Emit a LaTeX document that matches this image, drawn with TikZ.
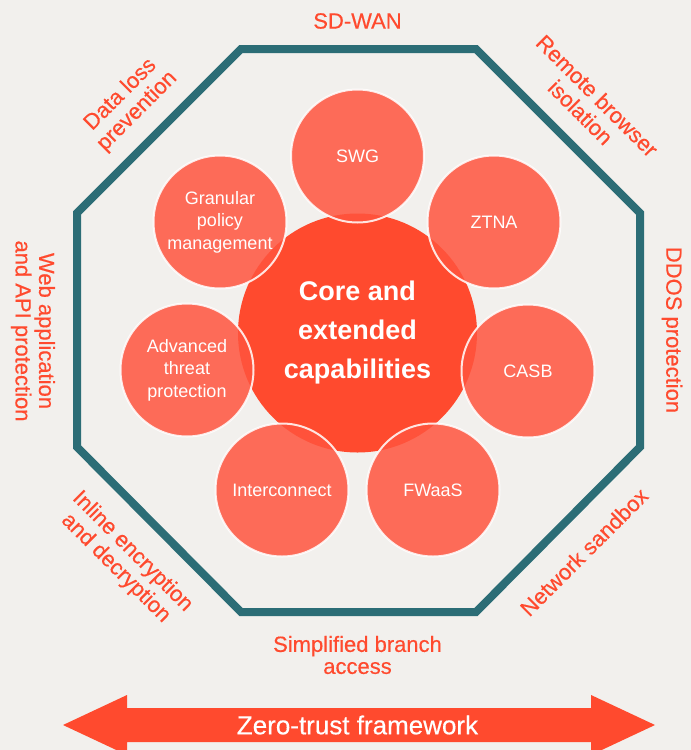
\documentclass[tikz,border=0pt]{standalone}
\usepackage{fontspec}
\setmainfont{Liberation Sans}
\newfontfamily\medfont[FakeBold=0.4]{Liberation Sans}
\definecolor{bgc}{HTML}{F2F0ED}
\definecolor{octc}{HTML}{2C6D76}
\definecolor{corec}{HTML}{FF4A2E}
\definecolor{capc}{HTML}{FF543E}
\definecolor{labc}{HTML}{FF4A2E}
\begin{document}
\begin{tikzpicture}[x=1pt,y=-1pt,
  capcircle/.style={circle, fill=capc, fill opacity=0.85, text opacity=1,
    draw=white, draw opacity=0.85, line width=2pt, minimum size=133pt,
    inner sep=0pt, text=white, align=center, font=\fontsize{18}{22.5}\selectfont},
  outerlab/.style={text=labc, align=center, inner sep=0pt,
    font=\medfont\fontsize{22}{23.5}\selectfont}]
\fill[bgc] (0,0) rectangle (691,750);
\useasboundingbox (0,0) rectangle (691,750);
% octagon
\draw[octc, line width=8pt, line join=miter]
  (241,49) -- (476,49) -- (640,213) -- (640,447) -- (476,612) -- (241,612) -- (77,447) -- (77,213) -- cycle;
% core
\node[circle, fill=corec, minimum size=239pt, inner sep=0pt, text=white, align=center,
  font=\fontsize{27}{39}\bfseries] (core) at (357.5,333) {Core and\\extended\\capabilities};
% capabilities
\node[capcircle] (swg) at (357.5,156) {SWG};
\node[capcircle] (ztna) at (494,222) {ZTNA};
\node[capcircle] (casb) at (528,371) {CASB};
\node[capcircle] (fwaas) at (433,490) {FWaaS};
\node[capcircle] (inter) at (282,490) {Interconnect};
\node[capcircle] (atp) at (187,370) {Advanced\\threat\\protection};
\node[capcircle] (gpm) at (220,222) {Granular\\policy\\management};
% outer labels
\node[outerlab] (sdwan) at (357.5,21) {SD-WAN};
\node[outerlab, rotate=45] (dlp) at (129,103) {Data loss\\prevention};
\node[outerlab, rotate=-45] (rbi) at (589,104) {Remote browser\\isolation};
\node[outerlab, rotate=-90] (ddos) at (672,330) {DDOS protection};
\node[outerlab, rotate=-90] (waap) at (33,331) {Web application\\and API protection};
\node[outerlab, rotate=-45] (ied) at (124,560) {Inline encryption\\and decryption};
\node[outerlab, rotate=45] (nsb) at (584,552) {Network sandbox};
\node[outerlab, font=\medfont\fontsize{22}{22}\selectfont] (sba) at (357.5,655) {Simplified branch\\access};
% zero-trust arrow
\fill[corec] (63,725) -- (127,695) -- (127,708) -- (591,708) -- (591,695) -- (655,725)
  -- (591,755) -- (591,742) -- (127,742) -- (127,755) -- cycle;
\node[text=white, inner sep=0pt, font=\medfont\fontsize{26}{26}\selectfont] (ztf) at (357.5,725) {Zero-trust framework};
\end{tikzpicture}
\end{document}
